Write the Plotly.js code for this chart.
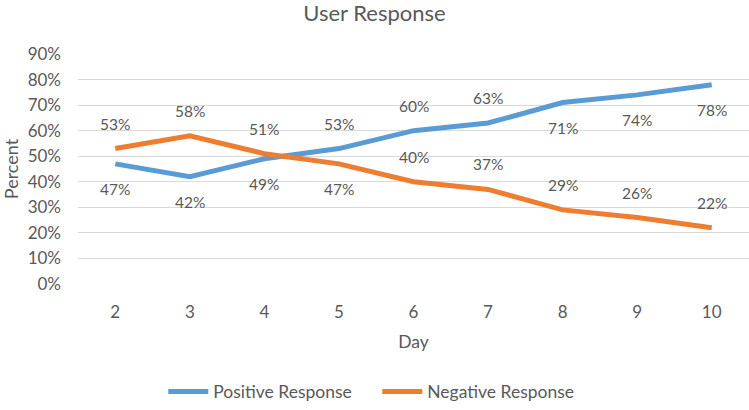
<!DOCTYPE html>
<html>
<head>
<meta charset="utf-8">
<script src="https://cdn.plot.ly/plotly-3.0.1.min.js"></script>
<style>
  html, body { margin: 0; padding: 0; background: #fff; }
  #chart { width: 749px; height: 410px; }
</style>
</head>
<body>
<div id="chart"></div>
<script>
// --- data ---
const days = [2, 3, 4, 5, 6, 7, 8, 9, 10];
const positive = [0.47, 0.42, 0.49, 0.53, 0.60, 0.63, 0.71, 0.74, 0.78];
const negative = [0.53, 0.58, 0.51, 0.47, 0.40, 0.37, 0.29, 0.26, 0.22];
const yTicks = [0, 0.1, 0.2, 0.3, 0.4, 0.5, 0.6, 0.7, 0.8, 0.9];

// where each data label sits relative to its line (1 = above, -1 = below)
const posSide = [-1, -1, -1, 1, 1, 1, -1, -1, -1];
const negSide = [1, 1, 1, -1, 1, 1, 1, 1, 1];

const font = 'Lato, "Open Sans", sans-serif';
const grey = '#595959';
const blue = '#5B9BD5';
const orange = '#ED7D31';

let traces = [
  { x: days, y: positive, mode: 'lines', name: 'Positive Response',
    line: { color: blue, width: 5 }, hoverinfo: 'x+y' },
  { x: days, y: negative, mode: 'lines', name: 'Negative Response',
    line: { color: orange, width: 5 }, hoverinfo: 'x+y' }
];

function labels(ys, side) {
  return ys.map((v, i) => ({
    x: days[i], y: v, xref: 'x', yref: 'y',
    text: Math.round(v * 100) + '%', showarrow: false,
    yshift: side[i] * 25,
    font: { family: font, size: 15.5, color: grey }
  }));
}

Plotly.newPlot('chart', traces, {
  width: 749, height: 410,
  paper_bgcolor: '#fff', plot_bgcolor: '#fff',
  margin: { l: 78, r: 0, t: 54, b: 121 },
  font: { family: font, color: grey },
  title: { text: 'User Response', x: 0.5, xanchor: 'center', y: 0.967, yanchor: 'middle',
    font: { family: font, size: 22, color: grey } },
  xaxis: {
    title: { text: 'Day', font: { size: 17.5, color: grey }, standoff: 14 },
    range: [1.5, 10.5], tickvals: days, ticktext: days.map(String),
    showgrid: false, zeroline: false, showline: false, ticks: '',
    tickfont: { size: 17, color: grey }, ticklabelstandoff: 16, fixedrange: true
  },
  yaxis: {
    title: { text: 'Percent', font: { size: 18, color: grey }, standoff: 8 },
    range: [0, 0.9], tickvals: yTicks, tickformat: '.0%',
    gridcolor: '#d9d9d9', gridwidth: 1, zeroline: false, showline: false, ticks: '',
    tickfont: { size: 17, color: grey }, ticklabelstandoff: 16, fixedrange: true
  },
  showlegend: true,
  legend: { orientation: 'h', x: 0.446, xanchor: 'center', y: -0.468, yanchor: 'middle',
    font: { size: 17.5, color: grey }, itemwidth: 40, entrywidth: 159 },
  annotations: labels(positive, posSide).concat(labels(negative, negSide))
}, { displayModeBar: false, staticPlot: true });
</script>
</body>
</html>
